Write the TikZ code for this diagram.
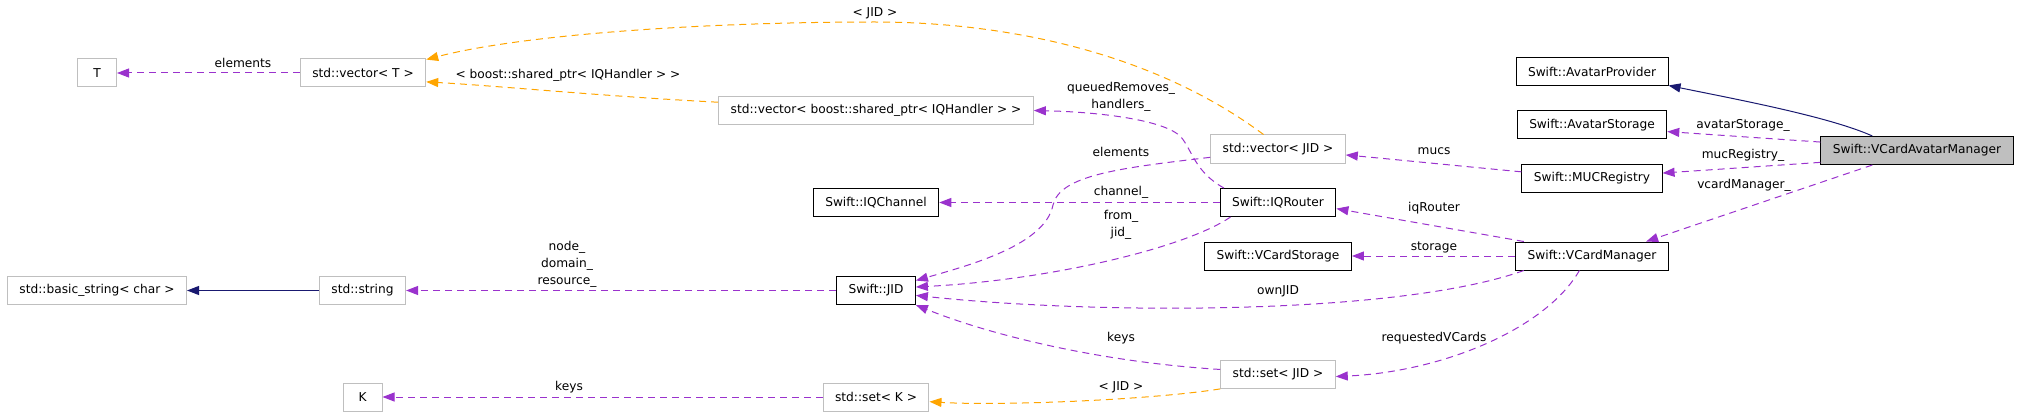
\documentclass[tikz,border=0pt]{standalone}
\usepackage{fontspec}
\setmainfont{DejaVu Sans}
\usepackage{tikz}
\usetikzlibrary{arrows.meta}

\definecolor{memberpurple}{HTML}{9A32CD}
\definecolor{tmplorange}{HTML}{FFA500}
\definecolor{inhnavy}{HTML}{191970}
\definecolor{undocgrey}{HTML}{BFBFBF}
\definecolor{mainfill}{HTML}{BFBFBF}

\begin{document}
\begin{tikzpicture}[x=1pt, y=-1pt,
    font=\fontsize{12.2}{17}\selectfont,
    box/.style={draw=black, line width=1pt, minimum height=28pt, minimum width=39pt, inner xsep=12pt, inner ysep=0pt},
    undocbox/.style={box, draw=undocgrey},
    lbl/.style={inner sep=0pt, align=center},
    member/.style={draw=memberpurple, line width=1pt, dash pattern=on 7pt off 5pt, -{Triangle[length=12pt,width=9pt]}},
    tmpl/.style={member, draw=tmplorange},
    inherit/.style={draw=inhnavy, line width=1pt, -{Triangle[length=12pt,width=9pt]}}]
    \useasboundingbox (0,0) rectangle (2021,417);

    \node[undocbox] (T) at (97,73) {T};
    \node[undocbox] (vecT) at (363,73) {std::vector< T >};
    \node[undocbox] (vecH) at (876,110.5) {std::vector< boost::shared\_ptr< IQHandler > >};
    \node[undocbox] (vecJID) at (1278,149) {std::vector< JID >};
    \node[box] (chan) at (876,202.5) {Swift::IQChannel};
    \node[box] (router) at (1278,202.5) {Swift::IQRouter};
    \node[box] (vstore) at (1278,256) {Swift::VCardStorage};
    \node[undocbox] (bstr) at (97,290.5) {std::basic\_string< char >};
    \node[undocbox] (str) at (362.5,290.5) {std::string};
    \node[box] (jid) at (876,290.5) {Swift::JID};
    \node[undocbox] (setJID) at (1278,374.5) {std::set< JID >};
    \node[undocbox] (K) at (362.5,397) {K};
    \node[undocbox] (setK) at (876,397) {std::set< K >};
    \node[box] (prov) at (1592,72) {Swift::AvatarProvider};
    \node[box] (astore) at (1592,125) {Swift::AvatarStorage};
    \node[box] (muc) at (1592,178) {Swift::MUCRegistry};
    \node[box] (vman) at (1592,256) {Swift::VCardManager};
    \node[box, fill=mainfill] (vam) at (1917,150.5) {Swift::VCardAvatarManager};

    \draw[member] (vecT) -- (T);
    \draw[tmpl] (vecH.177) .. controls (600,96) and (500,86) .. (vecT.-8);
    \draw[tmpl] (vecJID.135) .. controls (1150,50) and (1000,22) .. (875,22)
        .. controls (700,22) and (520,35) .. (vecT.12);
    \draw[member] (router.165) .. controls (1195,172) and (1192,150) .. (1181,137)
        .. controls (1165,120) and (1100,112) .. (vecH.east);
    \draw[member] (muc.175) .. controls (1470,167) and (1400,160) .. (vecJID.-5);
    \draw[member] (vecJID.187) .. controls (1120,168) and (1060,175) .. (1053,205)
        .. controls (1045,245) and (970,265) .. (jid.14);
    \draw[member] (router) -- (chan);
    \draw[member] (router.197) .. controls (1185,248) and (1050,280) .. (jid.5);
    \draw[member] (vman.168) -- (router.-6);
    \draw[member] (vman) -- (vstore);
    \draw[member] (vman.192) .. controls (1400,315) and (1100,315) .. (jid.-7);
    \draw[member] (setJID.175) .. controls (1100,362) and (990,335) .. (jid.-20);
    \draw[member] (vman.229) .. controls (1545,330) and (1440,372) .. (setJID.-2);
    \draw[tmpl] (setJID.194) .. controls (1150,400) and (1000,406) .. (setK.-5);
    \draw[member] (setK) -- (K);
    \draw[member] (jid) -- (str);
    \draw[inherit] (str) -- (bstr);
    \draw[inherit] (vam.162) .. controls (1830,117) and (1740,100) .. (prov.-10);
    \draw[member] (vam.175) -- (astore.-5);
    \draw[member] (vam.187) -- (muc.4);
    \draw[member] (vam.198) -- (vman.15);

    \node[lbl] (lelemT) at (243,63) {elements};
    \node[lbl] (lboost) at (568,75) {< boost::shared\_ptr< IQHandler > >};
    \node[lbl] (ljidtop) at (875,13) {< JID >};
    \node[lbl] (lqueued) at (1121,96.5) {queuedRemoves\_\\handlers\_};
    \node[lbl] (lelemJ) at (1121,152) {elements};
    \node[lbl] (lchan) at (1121,192) {channel\_};
    \node[lbl] (lfrom) at (1121,224.5) {from\_\\jid\_};
    \node[lbl] (lmucs) at (1434,151) {mucs};
    \node[lbl] (liqr) at (1434,208) {iqRouter};
    \node[lbl] (lstore) at (1434,247) {storage};
    \node[lbl] (lown) at (1278,291) {ownJID};
    \node[lbl] (lkeysJ) at (1121,338) {keys};
    \node[lbl] (lreq) at (1434,338) {requestedVCards};
    \node[lbl] (ljidset) at (1121,387) {< JID >};
    \node[lbl] (lkeysK) at (569,387) {keys};
    \node[lbl] (lnode) at (567,264) {node\_\\domain\_\\resource\_};
    \node[lbl] (lavst) at (1743,125) {avatarStorage\_};
    \node[lbl] (lmucr) at (1743,155) {mucRegistry\_};
    \node[lbl] (lvcm) at (1744,185) {vcardManager\_};
\end{tikzpicture}
\end{document}
